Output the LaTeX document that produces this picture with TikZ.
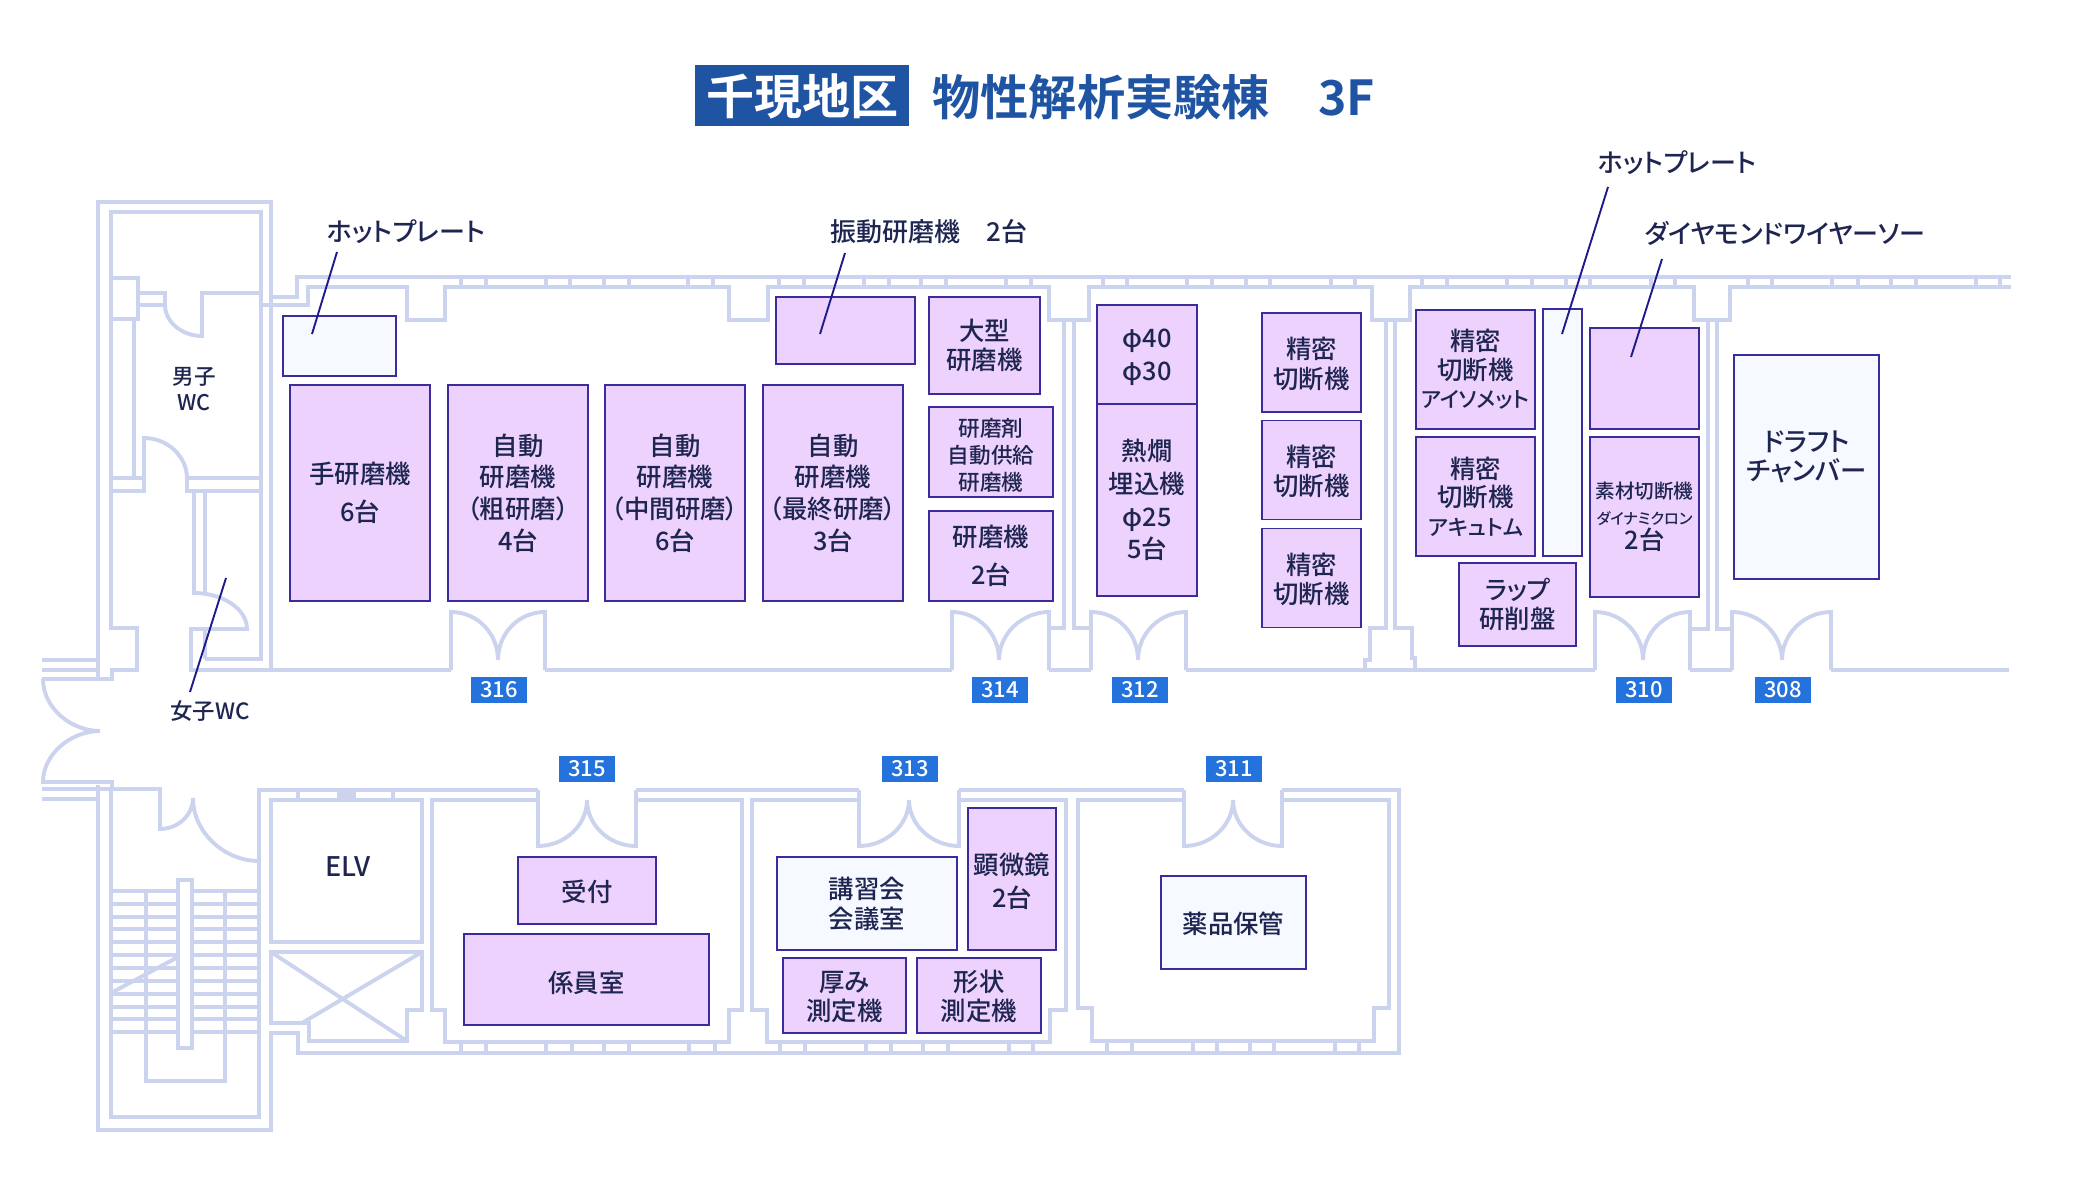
\documentclass[tikz,border=0pt]{standalone}
\usepackage{fontspec}
\setmainfont{Noto Sans CJK JP}[UprightFont=* Medium, BoldFont=* Bold, RawFeature=+palt]
\usepackage{tikz}
\definecolor{wallblue}{HTML}{CBD3EE}
\definecolor{edgeblue}{HTML}{3A2C9C}
\definecolor{lilac}{HTML}{ECD2FD}
\definecolor{pale}{HTML}{F6F9FF}
\definecolor{inkblue}{HTML}{1E2550}
\definecolor{leaderblue}{HTML}{1E1A8C}
\definecolor{tagblue}{HTML}{2472DB}
\definecolor{titleblue}{HTML}{1F54A3}
\newcommand{\sz}[1]{\fontsize{#1}{#1}\selectfont}
\newcommand{\lift}[1]{\rule{0pt}{#1pt}}
\tikzset{box/.style 2 args={minimum width=#1*.5pt, minimum height=#2*.5pt}}
\tikzstyle{wall} = [draw=wallblue, line width=1.95pt]
\tikzstyle{machine} = [rectangle, draw=edgeblue, fill=lilac, line width=.8pt, inner sep=0pt,
text=inkblue, align=center, font=\fontsize{12.7}{15.8}\selectfont]
\tikzstyle{plain} = [machine, fill=pale]
\tikzstyle{label} = [text=inkblue, align=center, inner sep=0pt, font=\fontsize{13}{15}\selectfont]
\tikzstyle{tag} = [rectangle, fill=tagblue, text=white, inner sep=0pt, minimum width=28pt, minimum height=13pt,
font=\fontsize{11}{11}\selectfont]
\tikzstyle{leader} = [draw=leaderblue, line width=.95pt]

\begin{document}
\begin{tikzpicture}[x=.5pt, y=-.5pt]
\useasboundingbox (0,0) rectangle (2080,1192);
% Walls, upper block
\draw [wall] (42,660) -- (98,660) -- (98,202) -- (271,202) -- (271,297) -- (297,297) -- (297,277) -- (2011,277);
\draw [wall] (42,670) -- (98,670);
\draw [wall] (98,660) -- (98,679);
\draw [wall] (42,679) -- (112,679) -- (112,670) -- (137,670) -- (137,628) -- (111,628) -- (111,212) -- (261,212) -- (261,659) -- (205,659);
\draw [wall] (111,278) -- (138,278) -- (138,319) -- (111,319);
\draw [wall] (138,293) -- (165,293) -- (165,305) .. controls (165,322) and (182,336) .. (202,336) -- (202,293) -- (261,293);
\draw [wall] (138,305) -- (165,305);
\draw [wall] (134,319) -- (134,478);
\draw [wall] (111,478) -- (144,478);
\draw [wall] (187,478) -- (261,478);
\draw [wall] (111,491) -- (144,491) -- (144,438) .. controls (168,438) and (187,457) .. (187,478) -- (187,491) -- (261,491);
\draw [wall] (194,491) -- (194,593) .. controls (223,593) and (247,609) .. (247,629) -- (191,629) -- (191,670) -- (451,670);
\draw [wall] (205,491) -- (205,593);
\draw [wall] (205,629) -- (205,659);
\draw [wall] (271,297) -- (271,670);
\draw [wall] (261,305) -- (308,305) -- (308,287) -- (407,287) -- (407,320) -- (445,320) -- (445,287) -- (729,287) -- (729,320) -- (768,320) -- (768,287) -- (1049,287) -- (1049,320) -- (1089,320) -- (1089,287) -- (1372,287) -- (1372,320) -- (1410,320) -- (1410,287) -- (1694,287) -- (1694,320) -- (1730,320) -- (1730,287) -- (2011,287);
% Partitions
\draw [wall] (1049,628) -- (1064,628) -- (1064,320);
\draw [wall] (1074,320) -- (1074,628) -- (1091,628);
\draw [wall] (1365,670) -- (1365,660) -- (1370,660) -- (1370,628) -- (1386,628) -- (1386,320);
\draw [wall] (1395,320) -- (1395,628) -- (1412,628) -- (1412,658) -- (1415,658) -- (1415,670);
\draw [wall] (1690,629) -- (1708,629) -- (1708,320);
\draw [wall] (1717,320) -- (1717,629) -- (1732,629);
% Corridor line and doors
\draw [wall] (545,670) -- (952,670);
\draw [wall] (1049,670) -- (1091,670);
\draw [wall] (1186,670) -- (1595,670);
\draw [wall] (1690,670) -- (1732,670);
\draw [wall] (1831,670) -- (2009,670);
\foreach \a/\m/\b in {451/498/545, 952/999/1049, 1091/1138/1186, 1595/1643/1690, 1732/1782/1831}
\draw [wall] (\a,670) -- (\a,612) .. controls ({\a+26},612) and (\m,633) .. (\m,660) .. controls (\m,633) and ({\b-26},612) .. (\b,612) -- (\b,670);
\foreach \a/\m/\b in {538/587/636, 859/909/959, 1184/1233/1282}
\draw [wall] (\a,790) -- (\a,846) .. controls ({\a+27},846) and (\m,825) .. (\m,800) .. controls (\m,825) and ({\b-27},846) .. (\b,846) -- (\b,790);
\foreach \x in {461,486,546,570,604,629,688,713,779,804,864,889,921,946,1006,1031,1103,1127,1187,1212,1246,1270,1331,1355,1422,1447,1507,1532,1566,1590,1651,1675,1748,1772,1832,1858,1891,1916,1976,2000}
\draw [wall] (\x,277) -- (\x,287);
% Entrance
\draw [wall] (43,679) .. controls (43,708) and (71,731) .. (100,731) .. controls (71,731) and (43,754) .. (43,782) -- (112,782) -- (112,789) -- (160,789) -- (160,829) .. controls (178,829) and (193,815) .. (193,798) .. controls (193,832) and (224,861) .. (259,861);
\draw [wall] (42,789) -- (112,789);
\draw [wall] (42,799) -- (98,799) -- (98,1130) -- (271,1130) -- (271,1033) -- (298,1033) -- (298,1053) -- (1399,1053) -- (1399,790) -- (1282,790);
\draw [wall] (98,785) -- (98,799);
\draw [wall] (111,789) -- (111,1117) -- (259,1117) -- (259,790) -- (538,790);
\draw [wall] (636,790) -- (859,790);
\draw [wall] (959,790) -- (1184,790);
% Stairs
\foreach \y in {891,904,917,929,942,955,968,981,994,1007,1019,1032}
\draw [wall] (111,\y) -- (259,\y);
\draw [wall] (146,891) -- (146,1081) -- (225,1081) -- (225,891);
\draw [wall] (111,993) -- (178,957);
\draw [wall, fill=white] (178,880) rectangle (192,1048);
% Lift
\draw [wall] (271,800) rectangle (422,942);
\draw [wall] (271,952) -- (422,952) -- (422,1010) -- (407,1010) -- (407,1041) -- (309,1041) -- (309,1023) -- (271,1023) -- cycle;
\draw [wall] (271,952) -- (407,1041);
\draw [wall] (422,952) -- (302,1023);
\draw [wall] (298,790) -- (298,800);
\draw [wall] (393,790) -- (393,800);
\fill [wallblue] (337,790) rectangle (356,800);
% Lower rooms
\draw [wall] (538,800) -- (432,800) -- (432,1010) -- (445,1010) -- (445,1042) -- (729,1042) -- (729,1010) -- (742,1010) -- (742,800) -- (636,800);
\draw [wall] (859,800) -- (752,800) -- (752,1010) -- (767,1010) -- (767,1042) -- (1050,1042) -- (1050,1010) -- (1066,1010) -- (1066,800) -- (959,800);
\draw [wall] (1184,800) -- (1078,800) -- (1078,1008) -- (1092,1008) -- (1092,1041) -- (1374,1041) -- (1374,1008) -- (1389,1008) -- (1389,800) -- (1282,800);
\foreach \x in {461,486,546,572,604,629,689,715,780,805,866,891,923,948,1009,1033,1107,1132,1193,1217,1250,1274,1335,1359}
\draw [wall] (\x,1042) -- (\x,1053);
% Place nodes
\node [rectangle, fill=titleblue, text=white, box={214}{61}, font=\fontsize{24}{24}\selectfont\bfseries] (area) at (802,96) {千現地区};
\node [anchor=west, inner sep=0pt, text=titleblue, font=\fontsize{24.1}{24}\selectfont\bfseries] (title) at (932,97) {物性解析実験棟　3F};
\node [plain, box={113}{60}] (hotplateA) at (339.5,346) {};
\node [machine, box={140}{216}] (hand) at (360,493) {手研磨機\\[3pt]6台};
\node [machine, box={140}{216}] (autoA) at (518,493) {自動\\研磨機\\（粗研磨）\\4台};
\node [machine, box={140}{216}] (autoB) at (675,493) {自動\\研磨機\\（中間研磨）\\6台};
\node [machine, box={140}{216}] (autoC) at (833,493) {自動\\研磨機\\（最終研磨）\\3台};
\node [machine, box={139}{67}] (shaker) at (845.5,330.5) {};
\node [machine, box={111}{97}, font=\fontsize{12.7}{14.8}\selectfont] (large) at (984.5,345.5) {大型\\研磨機};
\node [machine, box={124}{90}, font=\fontsize{10.8}{13.5}\selectfont] (feeder) at (991,452) {\lift{12.5}研磨剤\\自動供給\\研磨機};
\node [machine, box={124}{90}] (grinder) at (991,556) {研磨機\\[3pt]2台};
\node [machine, box={100}{99}, font=\fontsize{12.7}{16.5}\selectfont] (phiA) at (1147,354.5) {\lift{12.5}φ40\\φ30};
\node [machine, box={100}{192}, font=\fontsize{12.7}{16.4}\selectfont] (phiB) at (1147,500) {熱燗\\埋込機\\φ25\\5台};
\foreach \n/\y in {precA/362.5, precB/470, precC/578}
\node [machine, box={99}{99}, font=\fontsize{12.7}{14.8}\selectfont] (\n) at (1311.5,\y) {精密\\切断機\\[-15pt]~};
\node [machine, box={119}{119}, font=\fontsize{12.7}{14.3}\selectfont] (iso) at (1475.5,369.5) {精密\\切断機\\{\sz{10.8}アイソメット}};
\node [machine, box={119}{119}, font=\fontsize{12.7}{14.3}\selectfont] (acu) at (1475.5,496.5) {精密\\切断機\\{\sz{10.8}アキュトム}};
\node [machine, box={117}{83}, font=\fontsize{12.7}{14.3}\selectfont] (lap) at (1517.5,604.5) {ラップ\\研削盤};
\node [plain, box={39}{247}] (hotplateB) at (1562.5,432.5) {};
\node [machine, box={109}{101}] (diamond) at (1644.5,378.5) {};
\node [machine, box={109}{160}] (material) at (1644.5,517) {{\sz{9.8}素材切断機}\\[-3pt]{\sz{7.6}ダイナミクロン}\\[-3pt]2台};
\node [plain, box={145}{224}, font=\fontsize{13.2}{14.5}\selectfont] (draft) at (1806.5,467) {ドラフト\\チャンバー\\[-3.5pt]~};
\node [machine, box={138}{67}] (desk) at (587,890.5) {\lift{12.5}受付};
\node [machine, box={245}{91}] (staff) at (586.5,979.5) {\lift{14}係員室};
\node [plain, box={180}{93}, font=\fontsize{12.7}{15}\selectfont] (lecture) at (867,903.5) {講習会\\会議室};
\node [machine, box={88}{142}] (micro) at (1012,879) {\lift{13}顕微鏡\\[1pt]2台};
\node [machine, box={123}{75}, font=\fontsize{12.7}{14.6}\selectfont] (thick) at (844.5,995.5) {\lift{12}厚み\\測定機};
\node [machine, box={124}{75}, font=\fontsize{12.7}{14.6}\selectfont] (form) at (979,995.5) {\lift{12}形状\\測定機};
\node [plain, box={145}{93}] (chem) at (1233.5,922.5) {\lift{12.5}薬品保管};
% Room numbers
\node [tag] (r316) at (499,690) {316};
\node [tag] (r314) at (1000,690) {314};
\node [tag] (r312) at (1140,690) {312};
\node [tag] (r310) at (1644,690) {310};
\node [tag] (r308) at (1783,690) {308};
\node [tag] (r315) at (587,769) {315};
\node [tag] (r313) at (910,769) {313};
\node [tag] (r311) at (1234,769) {311};
% Labels
\node [label, font=\fontsize{10.8}{13}\selectfont] (men) at (194,389) {男子\\WC};
\node [label, font=\fontsize{11.2}{13}\selectfont] (women) at (210,711) {女子WC};
\node [label, font=\fontsize{13.5}{15}\selectfont] (elv) at (348,867) {ELV};
\node [label] (lblHotA) at (406,232) {ホットプレート};
\node [label] (lblShaker) at (929,232) {振動研磨機　2台};
\node [label] (lblHotB) at (1677,163) {ホットプレート};
\node [label] (lblDiamond) at (1785,233) {ダイヤモンドワイヤーソー};
% Leaders
\coordinate (hotAtop) at (337,252);
\coordinate (hotAend) at (312,334);
\coordinate (womenTop) at (226,578);
\coordinate (womenEnd) at (190,692);
\coordinate (shakerTop) at (845,253);
\coordinate (shakerEnd) at (820,334);
\coordinate (hotBtop) at (1608,187);
\coordinate (hotBend) at (1562,334);
\coordinate (diaTop) at (1662,259);
\coordinate (diaEnd) at (1631,357);
\path [leader] (hotAtop) -- (hotAend);
\path [leader] (womenTop) -- (womenEnd);
\path [leader] (shakerTop) -- (shakerEnd);
\path [leader] (hotBtop) -- (hotBend);
\path [leader] (diaTop) -- (diaEnd);
\end{tikzpicture}
\end{document}
